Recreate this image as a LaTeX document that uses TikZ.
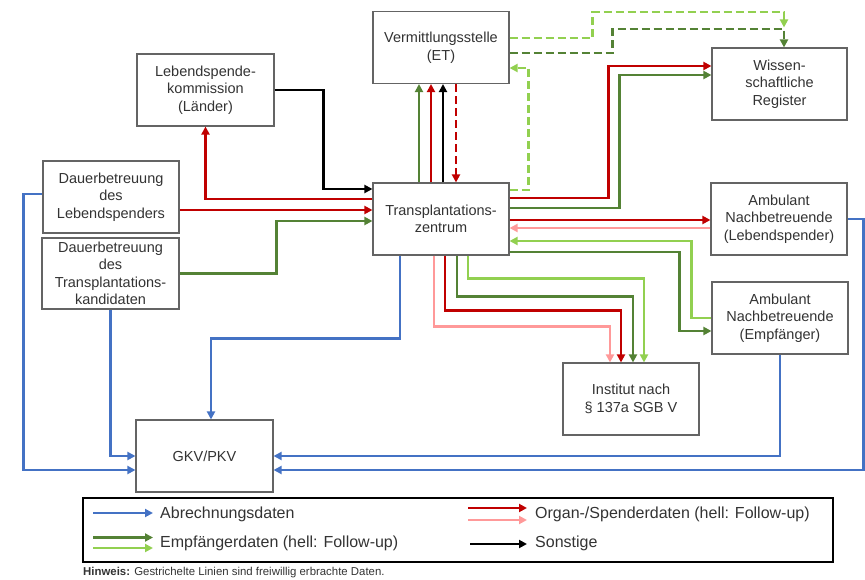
\documentclass[tikz,border=0pt]{standalone}
\usepackage{fontspec}
\setmainfont{Liberation Sans}
\usetikzlibrary{arrows.meta,calc}
\definecolor{cblue}{RGB}{68,114,196}
\definecolor{cred}{RGB}{192,0,0}
\definecolor{cpink}{RGB}{255,153,153}
\definecolor{cdgreen}{RGB}{84,130,53}
\definecolor{clgreen}{RGB}{146,208,80}
\definecolor{ctext}{RGB}{51,51,51}
\definecolor{cborder}{RGB}{100,100,100}
\tikzset{
  box/.style={draw=cborder, line width=1.1pt, fill=white, minimum width=136pt, minimum height=72pt,
    align=center, inner sep=0pt, text=ctext, font=\fontsize{14.5}{17.5}\selectfont},
  conn/.style={line width=2.7pt, -{Triangle[length=8pt,width=8pt]}},
  dsh/.style={dash pattern=on 8pt off 4pt},
  legtext/.style={anchor=west, inner sep=0pt, text=ctext, font=\fontsize{16}{19}\selectfont},
}
\begin{document}
\begin{tikzpicture}[x=1pt,y=-1pt]
\useasboundingbox (0,0) rectangle (865,580);

% nodes
\node[box] (et) at (441,47.5) {Vermittlungsstelle\\(ET)};
\node[box, minimum width=135pt] (reg) at (779.5,84) {Wissen-\\schaftliche\\Register};
\node[box, minimum width=137pt] (lsk) at (205.5,90) {Lebendspende-\\kommission\\(L\"ander)};
\node[box] (tz) at (441,219) {Transplantations-\\zentrum};
\node[box] (dls) at (111,197) {Dauerbetreuung\\des\\Lebendspenders};
\node[box, minimum width=137pt, minimum height=71pt] (dtk) at (110.5,273.5) {Dauerbetreuung\\des\\Transplantations-\\kandidaten};
\node[box] (als) at (779,219) {Ambulant\\Nachbetreuende\\(Lebendspender)};
\node[box] (ae) at (780,318) {Ambulant\\Nachbetreuende\\(Empf\"anger)};
\node[box] (inst) at (631,399) {Institut nach\\\S\ 137a SGB V};
\node[box, minimum width=137pt] (gkv) at (204.5,456) {GKV/PKV};

% dashed connectors ET -> Register
\draw[conn, dsh, clgreen] ($(et.east)+(0,-9.5)$) -- ++(83,0) -- ++(0,-26) -| ($(reg.north)+(4.5,-20)$);
\draw[conn, dsh, cdgreen] ($(et.east)+(0,5.5)$) -- ++(103,0) -- ++(0,-24) -| ($(reg.north)+(4.5,0)$);
\draw[conn, dsh, clgreen] ($(tz.east)+(0,-29)$) -- ++(19,0) |- ($(et.east)+(0,20.5)$);

% TZ <-> ET
\draw[conn, cdgreen] ($(tz.north)+(-22,0)$) -- ($(et.south)+(-22,0)$);
\draw[conn, cred] ($(tz.north)+(-10,0)$) -- ($(et.south)+(-10,0)$);
\draw[conn, black] ($(tz.north)+(2,0)$) -- ($(et.south)+(2,0)$);
\draw[conn, dsh, cred] ($(et.south)+(15,0)$) -- ($(tz.north)+(15,0)$);

% TZ -> Register
\draw[conn, cred] ($(tz.east)+(0,-21)$) -- ++(99,0) |- ($(reg.west)+(0,-18)$);
\draw[conn, cdgreen] ($(tz.east)+(0,-11)$) -- ++(110,0) |- ($(reg.west)+(0,-9)$);

% left side
\draw[conn, black] (lsk.east) -- ++(49,0) |- ($(tz.west)+(0,-30)$);
\draw[conn, cred] ($(tz.west)+(0,-20)$) -| (lsk.south);
\draw[conn, cred] ($(dls.east)+(0,13)$) -- ($(tz.west)+(0,-9)$);
\draw[conn, cdgreen] (dtk.east) -- ++(97,0) |- ($(tz.west)+(0,2)$);

% blue
\draw[conn, cblue] ($(dls.west)+(0,-3)$) -- ++(-19,0) |- ($(gkv.west)+(0,14)$);
\draw[conn, cblue] (dtk.south) |- (gkv.west);
\draw[conn, cblue] ($(tz.south)+(-41,0)$) -- ++(0,83) -| ($(gkv.north)+(6.5,0)$);
\draw[conn, cblue] (ae.south) |- (gkv.east);
\draw[conn, cblue] (als.east) -- ++(16,0) |- ($(gkv.east)+(0,14)$);

% TZ <-> ambulant
\draw[conn, cred] ($(tz.east)+(0,1)$) -- ($(als.west)+(0,1)$);
\draw[conn, cpink] ($(als.west)+(0,9)$) -- ($(tz.east)+(0,9)$);
\draw[conn, clgreen] (ae.west) -- ++(-20,0) |- ($(tz.east)+(0,22)$);
\draw[conn, cdgreen] ($(tz.east)+(0,33)$) -- ++(170,0) |- ($(ae.west)+(0,13)$);

% TZ -> Institut
\draw[conn, clgreen] ($(tz.south)+(27,0)$) -- ++(0,23) -| ($(inst.north)+(13,0)$);
\draw[conn, cdgreen] ($(tz.south)+(16,0)$) -- ++(0,41) -| ($(inst.north)+(2,0)$);
\draw[conn, cred] ($(tz.south)+(4,0)$) -- ++(0,55) -| ($(inst.north)+(-10,0)$);
\draw[conn, cpink] ($(tz.south)+(-7,0)$) -- ++(0,71) -| ($(inst.north)+(-21,0)$);

% legend
\node[draw=black, line width=1.3pt, minimum width=750pt, minimum height=64pt, inner sep=0pt] (leg) at (458,530) {};
\coordinate (lb1) at (93,513);   \coordinate (lb2) at (153,513);
\coordinate (lg1) at (93,537.5); \coordinate (lg2) at (153,537.5);
\coordinate (lh1) at (93,548);   \coordinate (lh2) at (153,548);
\coordinate (lr1) at (468,508);  \coordinate (lr2) at (527,508);
\coordinate (lp1) at (468,520);  \coordinate (lp2) at (527,520);
\coordinate (lk1) at (470,544);  \coordinate (lk2) at (527,544);
\draw[conn, cblue] (lb1) -- (lb2);
\draw[conn, cdgreen] (lg1) -- (lg2);
\draw[conn, clgreen] (lh1) -- (lh2);
\draw[conn, cred] (lr1) -- (lr2);
\draw[conn, cpink] (lp1) -- (lp2);
\draw[conn, black] (lk1) -- (lk2);
\node[legtext] (t1) at (160,514) {Abrechnungsdaten};
\node[legtext] (t2) at (160,543) {Empf\"angerdaten (hell: Follow-up)};
\node[legtext] (t3) at (535,514) {Organ-/Spenderdaten (hell: Follow-up)};
\node[legtext] (t4) at (535,543) {Sonstige};
\node[anchor=west, inner sep=0pt, text=ctext, font=\fontsize{11.4}{13}\selectfont] (hint) at (83,573)
  {\textbf{Hinweis:} Gestrichelte Linien sind freiwillig erbrachte Daten.};
\end{tikzpicture}
\end{document}
